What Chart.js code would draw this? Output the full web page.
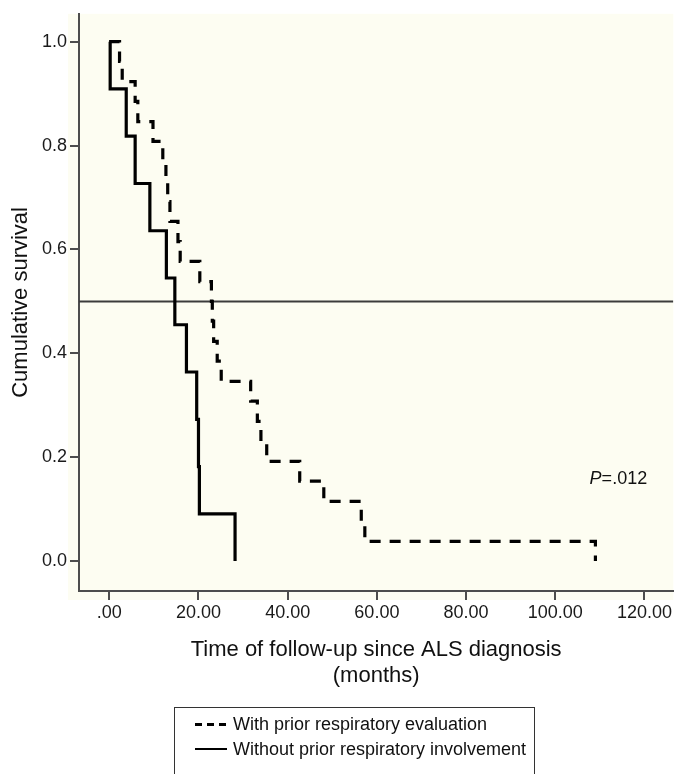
<!DOCTYPE html>
<html>
<head>
<meta charset="utf-8">
<script src="https://cdn.jsdelivr.net/npm/chart.js@4.4.1/dist/chart.umd.min.js"></script>
<style>
  html, body { margin: 0; padding: 0; background: #ffffff; overflow: hidden; }
  #wrap { position: relative; width: 674px; height: 774px; }
  canvas { position: absolute; left: 0; top: 0; }
  #legend { position: absolute; left: 174px; top: 707px; width: 361px; height: 90px;
            border: 1.5px solid #333; box-sizing: border-box;
            font-family: "Liberation Sans", Arial, sans-serif; font-size: 18px; color: #111; }
  .row { position: absolute; left: 0; height: 22px; line-height: 22px; white-space: nowrap; }
  .sample { position: absolute; left: 20px; width: 32px; }
  .lbl { position: absolute; left: 58px; }
  .dash { height: 3px; background: repeating-linear-gradient(to right, #000 0 7px, transparent 7px 12px); }
  .solid { height: 2px; background: #000; }
</style>
</head>
<body>
<div id="wrap">
  <canvas id="c" width="674" height="774"></canvas>
  <div id="legend">
    <div class="row" style="top:5px;"><div class="sample dash" style="top:10px;"></div><span class="lbl" id="lg0"></span></div>
    <div class="row" style="top:30px;"><div class="sample solid" style="top:10px;"></div><span class="lbl" id="lg1"></span></div>
  </div>
</div>
<script>
// ---------- data ----------
const seriesNames = ['With prior respiratory evaluation', 'Without prior respiratory involvement'];

// With prior respiratory evaluation (dashed)
const evalTimes = [0, 2.3, 2.9, 5.8, 6.4, 9.8, 12.0, 12.7, 13.1, 13.6, 15.4, 15.9, 20.3, 22.9, 23.1, 23.4, 24.2, 25.1, 31.7, 33.2, 34.0, 35.3, 42.7, 48.1, 56.5, 57.3, 109.0];
const evalSurv  = [1.0, 0.962, 0.923, 0.885, 0.846, 0.808, 0.769, 0.731, 0.692, 0.654, 0.615, 0.577, 0.538, 0.500, 0.462, 0.423, 0.385, 0.346, 0.308, 0.269, 0.231, 0.192, 0.154, 0.115, 0.077, 0.038, 0.0];

// Without prior respiratory involvement (solid)
const invTimes = [0, 0.2, 3.8, 5.8, 9.1, 12.8, 14.7, 17.3, 19.6, 20.0, 20.2, 28.2];
const invSurv  = [1.0, 0.909, 0.818, 0.727, 0.636, 0.545, 0.455, 0.364, 0.273, 0.182, 0.091, 0.0];

const medianLevel = 0.5;

const xTicks = [0, 20, 40, 60, 80, 100, 120];
const xTickLabels = ['.00', '20.00', '40.00', '60.00', '80.00', '100.00', '120.00'];
const yTicks = [0, 0.2, 0.4, 0.6, 0.8, 1.0];
const yTickLabels = ['0.0', '0.2', '0.4', '0.6', '0.8', '1.0'];

const xTitle = ['Time of follow-up since ALS diagnosis', '(months)'];
const yTitle = 'Cumulative survival';
const pText = ['P', '=.012'];
const pPos = { x: 107.7, y: 0.158 };

// ---------- chart ----------
const X_MIN = -6.79, X_MAX = 126.47, Y_MIN = -0.0576, Y_MAX = 1.0537;
const FONT = '"Liberation Sans", Arial, sans-serif';
const AXIS = '#4d4d4d';

document.getElementById('lg0').textContent = seriesNames[0];
document.getElementById('lg1').textContent = seriesNames[1];

const toPts = (t, s) => t.map((v, i) => ({ x: v, y: s[i] }));

const bgPlugin = {
  id: 'bg',
  beforeDraw(chart) {
    const { ctx, chartArea: a } = chart;
    ctx.save();
    ctx.fillStyle = 'rgb(253,253,242)';
    ctx.fillRect(a.left - 11, a.top, a.right - a.left + 11, a.bottom - a.top + 9);
    ctx.restore();
  }
};

const pPlugin = {
  id: 'ptext',
  afterDatasetsDraw(chart) {
    const { ctx, scales } = chart;
    const x = scales.x.getPixelForValue(pPos.x);
    const y = scales.y.getPixelForValue(pPos.y);
    ctx.save();
    ctx.fillStyle = '#111';
    ctx.textBaseline = 'middle';
    ctx.textAlign = 'left';
    ctx.font = 'italic 18px ' + FONT;
    ctx.fillText(pText[0], x, y);
    const w = ctx.measureText(pText[0]).width;
    ctx.font = '18px ' + FONT;
    ctx.fillText(pText[1], x + w, y);
    ctx.restore();
  }
};

new Chart(document.getElementById('c'), {
  type: 'line',
  data: {
    datasets: [
      {
        label: 'median',
        data: [{ x: X_MIN, y: medianLevel }, { x: X_MAX, y: medianLevel }],
        borderColor: '#3c3c3c', borderWidth: 2, pointRadius: 0, order: 3
      },
      {
        label: seriesNames[0],
        data: toPts(evalTimes, evalSurv),
        stepped: true,
        borderColor: '#000', borderWidth: 3.2, borderDash: [11, 9],
        borderCapStyle: 'butt', borderJoinStyle: 'miter',
        pointRadius: 0, order: 2
      },
      {
        label: seriesNames[1],
        data: toPts(invTimes, invSurv),
        stepped: true,
        borderColor: '#000', borderWidth: 3.2,
        borderCapStyle: 'butt', borderJoinStyle: 'miter',
        pointRadius: 0, order: 1
      }
    ]
  },
  options: {
    responsive: false,
    animation: false,
    devicePixelRatio: 1,
    layout: { padding: { top: 12, left: 0, right: 0, bottom: 84 } },
    plugins: { legend: { display: false }, tooltip: { enabled: false } },
    scales: {
      x: {
        type: 'linear', min: X_MIN, max: X_MAX,
        afterBuildTicks: s => { s.ticks = xTicks.map(v => ({ value: v })); },
        afterFit: s => { s.height = 99; },
        ticks: {
          autoSkip: false, maxRotation: 0, padding: 2,
          font: { family: FONT, size: 18 }, color: '#1a1a1a',
          callback: (v, i) => xTickLabels[i]
        },
        grid: { drawOnChartArea: false, drawTicks: true, tickLength: 9, color: AXIS, lineWidth: 2 },
        border: { display: true, color: AXIS, width: 2 },
        title: {
          display: true, text: xTitle, color: '#111',
          font: { family: FONT, size: 22, lineHeight: 1.18 },
          padding: { top: 0, bottom: 1 }
        }
      },
      y: {
        type: 'linear', min: Y_MIN, max: Y_MAX,
        afterBuildTicks: s => { s.ticks = yTicks.map(v => ({ value: v })); },
        afterFit: s => { s.width = 79; },
        ticks: {
          padding: 3,
          font: { family: FONT, size: 18 }, color: '#1a1a1a',
          callback: (v, i) => yTickLabels[i]
        },
        grid: { drawOnChartArea: false, drawTicks: true, tickLength: 9, color: AXIS, lineWidth: 2 },
        border: { display: true, color: AXIS, width: 2 },
        title: {
          display: true, text: yTitle, color: '#111',
          font: { family: FONT, size: 22, lineHeight: 1.2 },
          padding: { top: 8, bottom: 0 }
        }
      }
    }
  },
  plugins: [bgPlugin, pPlugin]
});
</script>
</body>
</html>
